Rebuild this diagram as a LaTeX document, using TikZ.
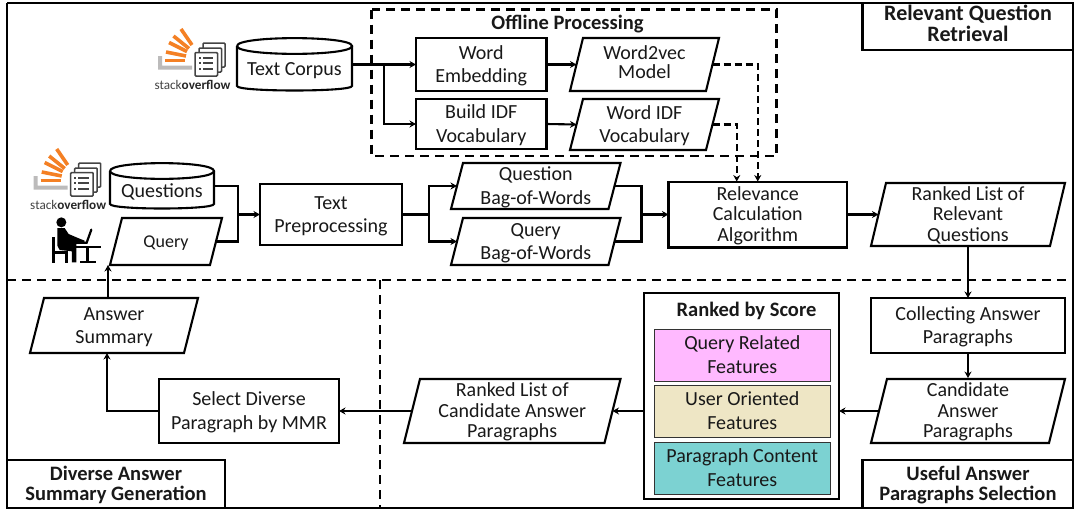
\documentclass[tikz,border=0pt]{standalone}
\usepackage{fontspec}
\setmainfont{Carlito}
\usetikzlibrary{arrows.meta,calc}
\definecolor{sopink}{HTML}{FFB9FF}
\definecolor{sotan}{HTML}{EEE6C5}
\definecolor{soteal}{HTML}{7CD2D2}
\definecolor{soorange}{HTML}{F48024}
\definecolor{sogrey}{HTML}{BCBBBB}
\definecolor{sodark}{HTML}{444444}
\tikzset{
  lw/.style={line width=2.1pt,draw=black},
  txt/.style={inner sep=0pt,outer sep=0pt,align=center,text=black!90,font=\fontsize{20}{23.5}\selectfont},
  tight/.style={font=\fontsize{20}{20.7}\selectfont},
  boldtxt/.style={font=\fontsize{20.5}{20}\selectfont\bfseries},
  bigbold/.style={font=\fontsize{22}{21}\selectfont\bfseries},
  boxed/.style={txt,lw},
  con/.style={line width=2.1pt,draw=black},
  arr/.style={con,-{Stealth[length=6.5pt,width=7pt]}},
  darr/.style={line width=2.1pt,draw=black,dash pattern=on 7pt off 4pt,-{Stealth[length=6.5pt,width=7pt]}},
  zone/.style={line width=2.1pt,draw=black,dash pattern=on 9pt off 6pt},
  feat/.style={txt,draw=black!80,line width=0.9pt},
}
\newcommand\soH{18.5}
% name, style, x1, y1, x2, y2, text
\newcommand\sobox[7]{%
  \pgfmathsetmacro\pw{#5-#3}\pgfmathsetmacro\ph{#6-#4}%
  \pgfmathsetmacro\px{(#3+#5)/2}\pgfmathsetmacro\py{(#4+#6)/2}%
  \node[#2,minimum width=\pw pt,minimum height=\ph pt] (#1) at (\px,\py) {\rule{0pt}{\soH pt}#7\rule[-6pt]{0pt}{6pt}};
}
% name, x1, y1, x2, y2, skew, text, style
\newcommand\sopara[8][]{%
  \pgfmathsetmacro\pa{#3+#7}\pgfmathsetmacro\pb{#5-#7}%
  \pgfmathsetmacro\pm{(#4+#6)/2}\pgfmathsetmacro\pl{#3+#7/2}\pgfmathsetmacro\pr{#5-#7/2}%
  \draw[lw] (\pa,#4) -- (#5,#4) -- (\pb,#6) -- (#3,#6) -- cycle;
  \coordinate (#2-l) at (\pl,\pm);
  \coordinate (#2-r) at (\pr,\pm);
  \sobox{#2}{txt,#1}{#3}{#4}{#5}{#6}{#8}
}
% name, x1, y1, x2, y2, text
\newcommand\socyl[6]{%
  \pgfmathsetmacro\pb{#3+8}\pgfmathsetmacro\pc{#5-5}\pgfmathsetmacro\pd{#3-2.5}\pgfmathsetmacro\pe{#3+18.5}\pgfmathsetmacro\pf{#5+1}%
  \draw[lw] (#2,\pb) -- (#2,\pc) .. controls (#2,\pf) and (#4,\pf) .. (#4,\pc) -- (#4,\pb);
  \draw[lw] (#2,\pb) .. controls (#2,\pd) and (#4,\pd) .. (#4,\pb) .. controls (#4,\pe) and (#2,\pe) .. (#2,\pb);
  \begingroup\renewcommand\soH{28}\sobox{#1}{txt}{#2}{#3}{#4}{#5}{#6}\endgroup
}
% name, xshift, yshift
\newcommand\sologo[3]{%
  \begin{scope}[shift={(#2,#3)}]
    \fill[sogrey] (158,56) -- (162,56) -- (162,65.5) -- (192,65.5) -- (192,69.5) -- (158,69.5) -- cycle;
    \draw[soorange,line width=3.6pt] (165,60.5) -- (185,60.5);
    \draw[soorange,line width=3.6pt] (166,52) -- (186,56);
    \draw[soorange,line width=3.6pt] (169,42.5) -- (187,51.5);
    \draw[soorange,line width=3.6pt] (173.5,36) -- (189,48.5);
    \draw[soorange,line width=3.6pt] (181,29) -- (192,45);
    \draw[sodark,line width=1.5pt,fill=white,rounded corners=1pt] (203,43) rectangle (225,67);
    \draw[sodark,line width=1.5pt,fill=white,rounded corners=1pt] (199,48) rectangle (221.5,72);
    \draw[sodark,line width=1.5pt,fill=white,rounded corners=1pt] (195,52.5) rectangle (217.5,76);
    \foreach \yy in {57.5,63,68.5}{
      \fill[sodark] (198.5,\yy-1) rectangle (200.5,\yy+1);
      \fill[sodark] (202.5,\yy-1) rectangle (213,\yy+1);
    }
    \node[inner sep=0pt,font=\fontsize{13.2}{14}\selectfont,text=sodark] (#1) at (192.5,85) {stack\textbf{\textcolor{black!85}{overflow}}};
  \end{scope}
}
\begin{document}
\begin{tikzpicture}[x=1pt,y=-1pt]
\useasboundingbox (0,0) rectangle (1074,509);
\fill[white] (0,0) rectangle (1074,509);
% outer frame
\draw[lw] (7,3) -- (1074,3);
\draw[lw] (7,3) -- (7,508) -- (1074,508);
\draw[lw] (1073.5,3) -- (1073.5,508);
% zones
\draw[zone] (7,280) -- (1074,280);
\draw[zone] (380,280) -- (380,508);
\draw[zone] (371.5,9.5) rectangle (776.5,156);
\node[txt,boldtxt] (offline) at (567.5,24.5) {Offline Processing};
% captions
\begingroup\renewcommand\soH{15.5}
\sobox{capa}{boxed,bigbold}{862.5}{3}{1073.5}{50}{Relevant Question\\Retrieval}
\endgroup
\sobox{capb}{boxed,boldtxt}{862.5}{460}{1073.5}{508}{Useful Answer\\Paragraphs Selection}
\sobox{capc}{boxed,boldtxt}{7}{460}{225}{508}{Diverse Answer\\Summary Generation}
% sources
\sologo{logoa}{0}{0}
\sologo{logob}{-124.3}{120}
\socyl{corpus}{237}{38}{352}{91}{Text Corpus}
\socyl{questions}{110}{163}{214}{209}{Questions}
\sopara[font=\fontsize{18}{20}\selectfont]{query}{110}{218}{222}{265}{12}{Query}
% person
\begin{scope}[shift={(48,214)},scale=0.3333]
  \fill (40,25) circle (15);
  \fill (28,42) -- (50,42) -- (62,60) -- (90,72) -- (110,80) -- (108,88) -- (85,90) -- (85,145) -- (72,145) -- (72,112) -- (35,108) -- (28,95) -- cycle;
  \fill (12,70) rectangle (20,146);
  \fill (12,112) rectangle (60,120);
  \fill (52,112) rectangle (60,146);
  \fill (72,95) rectangle (158,102);
  \fill (114,95) rectangle (122,142);
  \fill (95,140) rectangle (143,147);
  \draw[line width=2.2pt,line cap=round] (130,47) -- (116,86) -- (88,86);
\end{scope}
% offline
\sobox{wordemb}{boxed}{416}{38}{546.5}{91}{Word\\Embedding}
\begingroup\renewcommand\soH{14}
\sopara[font=\fontsize{20}{19}\selectfont]{wvmodel}{570}{38}{719}{91}{13}{Word2vec\\Model}
\endgroup
\sobox{buildidf}{boxed}{416}{99}{546.5}{149}{Build IDF\\Vocabulary}
\sopara{wordidf}{570}{99}{719}{150}{13}{Word IDF\\Vocabulary}
% main row
\sobox{textprep}{boxed}{260}{184}{402}{245}{Text\\Preprocessing}
\sopara{qbow}{451}{163}{620.5}{209}{12}{Question\\Bag-of-Words}
\sopara{qrbow}{451}{218}{620.5}{265}{12}{Query\\Bag-of-Words}
\sobox{relev}{boxed,tight}{668.5}{183}{847}{246}{Relevance\\Calculation\\Algorithm}
\sopara[tight]{ranked}{871}{183}{1065}{246}{15}{Ranked List of\\Relevant\\Questions}
% lower right
\sobox{collect}{boxed}{871}{298}{1065}{353}{Collecting Answer\\Paragraphs}
\sopara[tight]{cand}{871}{379}{1065}{443}{16}{Candidate\\Answer\\Paragraphs}
\sobox{score}{boxed}{644}{293}{839}{499}{}
\node[txt,boldtxt] (scorettl) at (746.5,311) {Ranked by Score};
\sobox{fqr}{feat,fill=sopink}{654.5}{329}{830}{381.5}{Query Related\\Features}
\sobox{fuo}{feat,fill=sotan}{654.5}{385.5}{830}{437}{User Oriented\\Features}
\sobox{fpc}{feat,fill=soteal}{654.5}{442}{830}{494}{Paragraph Content\\Features}
% lower left
\sopara[tight]{rlist}{404}{379}{620.5}{443}{16}{Ranked List of\\Candidate Answer\\Paragraphs}
\sobox{select}{boxed}{159}{379}{339}{443}{Select Diverse\\Paragraph by MMR}
\sopara{anssum}{30}{298}{198}{353}{14}{Answer\\Summary}
% connectors
\coordinate (jcorpus) at (384,64.5);
\draw[arr] (corpus.east) -- (wordemb.west);
\draw[arr] (jcorpus) |- (buildidf.west);
\draw[arr] (wordemb.east) -- (wvmodel-l);
\draw[arr] (buildidf.east) -- (wordidf-l);
\draw[darr] (wvmodel-r) -| (relev.north);
\draw[darr] (wordidf-r) -| ([xshift=-21pt]relev.north);
\coordinate (jin) at (238,214.5);
\draw[con] (questions.east) -| (jin);
\draw[con] (query-r) -| (jin);
\draw[arr] (jin) -- (textprep.west);
\coordinate (jprep) at (429,214.5);
\draw[con] (textprep.east) -- (jprep);
\draw[arr] (jprep) |- (qbow-l);
\draw[arr] (jprep) |- (qrbow-l);
\coordinate (jbow) at (641.5,214.5);
\draw[con] (qbow-r) -| (jbow);
\draw[con] (qrbow-r) -| (jbow);
\draw[arr] (jbow) -- (relev.west);
\draw[arr] (relev.east) -- (ranked-l);
\draw[arr] (ranked.south) -- (collect.north);
\draw[arr] (collect.south) -- (cand.north);
\draw[arr] (cand-l) -- (cand-l -| score.east);
\draw[arr] (score.west |- rlist-r) -- (rlist-r);
\draw[arr] (rlist-l) -- (select.east);
\draw[arr] (select.west) -| ([xshift=-7pt]anssum.south);
\draw[arr] ([xshift=-6pt]anssum.north) -- ([xshift=-6pt]anssum.north |- query.south);
\end{tikzpicture}
\end{document}
